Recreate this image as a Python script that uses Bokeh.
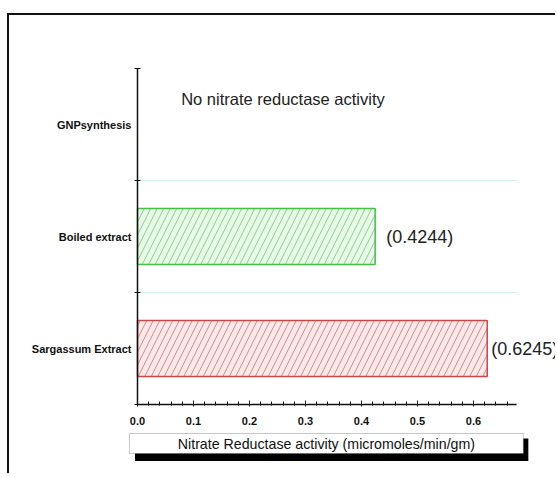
from bokeh.plotting import figure
from bokeh.models import (Range1d, FixedTicker, SingleIntervalTicker, PrintfTickFormatter,
                          Label, BoxAnnotation)
from bokeh.embed import file_html
from bokeh.resources import INLINE

# ---- data ----
categories = ["Sargassum Extract", "Boiled extract", "GNPsynthesis"]
activity = [0.6245, 0.4244, None]          # GNP synthesis: no activity measured
note_text = "No nitrate reductase activity"
x_title = "Nitrate Reductase activity (micromoles/min/gm)"
x_max = 0.677

# ---- styles / layout ----
bar_line = ["#c84848", "#44c044"]
bar_fill = ["#fbe9e9", "#e9f9e9"]
bar_hatch = ["#c97070", "#70c470"]
label_dx = [4, 11]
FONT = "Liberation Sans"
PX_X = 560.0      # pixels per x unit
PX_Y = 112.0      # pixels per category band

pos = [i + 1 for i in range(len(categories))]
rows = [i for i, v in enumerate(activity) if v is not None]
y_top = len(categories) + 0.5
# the frame covers almost the whole canvas; the axes are pinned inside it
x_lo = -109 / PX_X
x_hi = x_lo + 529 / PX_X
y_hi = y_top + 8 / PX_Y
y_lo = y_top - 397 / PX_Y

p = figure(width=548, height=460, output_backend="svg", toolbar_location=None,
           x_range=Range1d(x_lo, x_hi), y_range=Range1d(y_lo, y_hi),
           min_border_left=19, min_border_right=0, min_border_top=45, min_border_bottom=10)
p.outline_line_color = None
p.xgrid.visible = False
p.ygrid.visible = False
p.styles = {"position": "relative", "left": "7px", "top": "13px",
            "border-left": "2px solid #111", "border-top": "2px solid #111"}

# separators between category bands
seps = [q + 0.5 for q in pos[:-1]]
p.segment(x0=[0] * len(seps), x1=[x_max] * len(seps), y0=seps, y1=seps,
          line_color="#d3eeef", line_width=1.2)

p.hbar(y=[pos[i] for i in rows], left=0, right=[activity[i] for i in rows], height=0.5,
       fill_color=bar_fill[:len(rows)], line_color=bar_line[:len(rows)], line_width=1.5,
       hatch_pattern="/", hatch_color=bar_hatch[:len(rows)], hatch_scale=13, hatch_weight=0.8)

# value labels
for k, i in enumerate(rows):
    p.add_layout(Label(x=activity[i], y=pos[i], text="(%.4f)" % activity[i], x_offset=label_dx[k],
                       text_font=FONT, text_font_size="18px", text_color="#222",
                       text_baseline="middle", text_align="left"))

# note for GNP synthesis
p.add_layout(Label(x=0.078, y=pos[2] + 0.23, text=note_text, text_font=FONT,
                   text_font_size="16.5px", text_color="#222", text_baseline="middle"))

# y axis
ya = p.yaxis[0]
ya.fixed_location = 0
ya.bounds = (0.5, y_top)
ya.ticker = FixedTicker(ticks=pos, minor_ticks=[q - 0.5 for q in pos] + [y_top])
ya.major_label_overrides = {pos[i]: categories[i] for i in range(len(categories))}
ya.major_tick_in = 0
ya.major_tick_out = 0
ya.minor_tick_in = 3
ya.minor_tick_out = 3
ya.minor_tick_line_color = "#111"
ya.axis_line_color = "#111"
ya.axis_line_width = 1.5
ya.major_label_standoff = 3
ya.major_label_text_font = FONT
ya.major_label_text_font_style = "bold"
ya.major_label_text_font_size = "11px"
ya.major_label_text_color = "#111"

# x axis
xa = p.xaxis[0]
xa.fixed_location = 0.5
xa.bounds = (0, x_max)
xa.ticker = SingleIntervalTicker(interval=0.1, num_minor_ticks=5)
xa.formatter = PrintfTickFormatter(format="%.1f")
xa.major_tick_in = 4
xa.major_tick_out = 2
xa.minor_tick_in = 3
xa.minor_tick_out = 1
xa.major_tick_line_color = "#111"
xa.minor_tick_line_color = "#111"
xa.axis_line_color = "#111"
xa.axis_line_width = 1.5
xa.major_label_standoff = 10
xa.major_label_text_font = FONT
xa.major_label_text_font_style = "bold"
xa.major_label_text_font_size = "11px"
xa.major_label_text_color = "#111"

# axis title in a box with a drop shadow
p.add_layout(BoxAnnotation(left=-2.5 / PX_X, right=0.689 + 5 / PX_X, top=0.5 - 34 / PX_Y,
                           bottom=0.5 - 56.5 / PX_Y, fill_color="black", fill_alpha=1,
                           line_color=None))
p.add_layout(BoxAnnotation(left=-8 / PX_X, right=0.689, top=0.5 - 29 / PX_Y,
                           bottom=0.5 - 49 / PX_Y, fill_color="white", fill_alpha=1,
                           line_color="#444", line_width=1))
p.add_layout(Label(x=(0.689 - 8 / PX_X) / 2, y=0.5 - 39.5 / PX_Y, text=x_title, text_font=FONT,
                   text_font_size="14.2px", text_color="#111", text_align="center",
                   text_baseline="middle"))

open("out.html", "w").write(file_html(p, INLINE))
